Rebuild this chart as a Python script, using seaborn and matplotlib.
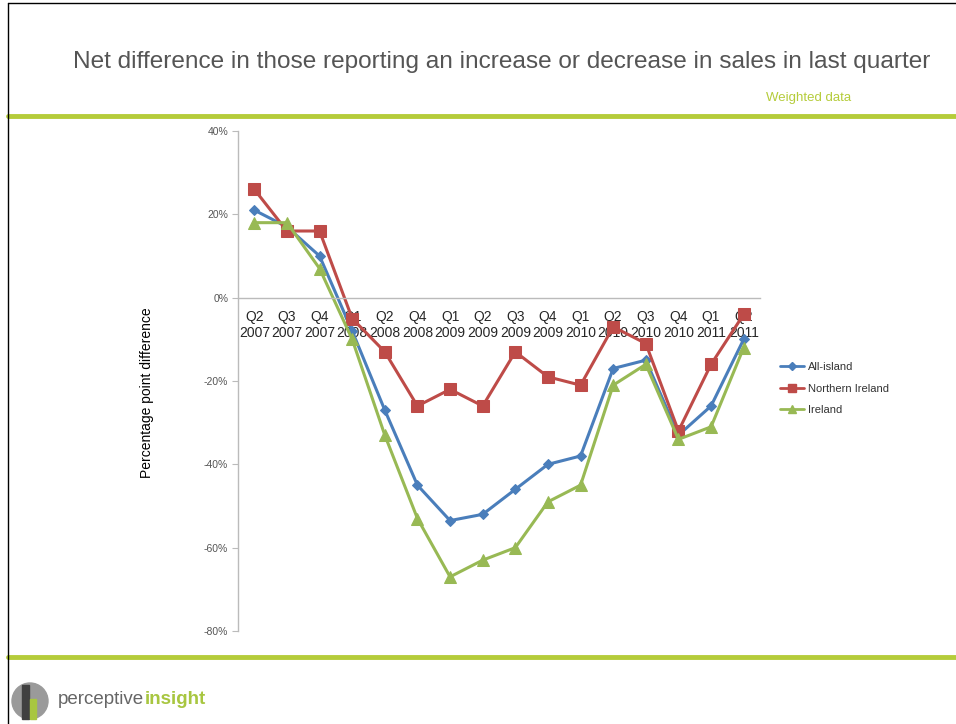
import matplotlib
matplotlib.use("Agg")
import pandas as pd
import seaborn as sns
import matplotlib.pyplot as plt
from matplotlib.patches import Circle, Rectangle
from matplotlib.lines import Line2D

quarters = ["Q2\n2007", "Q3\n2007", "Q4\n2007", "Q1\n2008", "Q2\n2008", "Q4\n2008",
            "Q1\n2009", "Q2\n2009", "Q3\n2009", "Q4\n2009", "Q1\n2010", "Q2\n2010",
            "Q3\n2010", "Q4\n2010", "Q1\n2011", "Q2\n2011"]
all_island = [21, 17, 10, -8, -27, -45, -53.5, -52, -46, -40, -38, -17, -15, -33, -26, -10]
northern_ireland = [26, 16, 16, -5, -13, -26, -22, -26, -13, -19, -21, -7, -11, -32, -16, -4]
ireland = [18, 18, 7, -10, -33, -53, -67, -63, -60, -49, -45, -21, -16, -34, -31, -12]

series_names = ["All-island", "Northern Ireland", "Ireland"]
colors = {"All-island": "#4a7ebb", "Northern Ireland": "#be4b48", "Ireland": "#98b954"}
markers = {"All-island": "D", "Northern Ireland": "s", "Ireland": "^"}
msizes = {"All-island": 5, "Northern Ireland": 8, "Ireland": 8}

rows = []
for name, vals in zip(series_names, [all_island, northern_ireland, ireland]):
    for i, v in enumerate(vals):
        rows.append({"pos": i, "Quarter": quarters[i], "Series": name, "Value": v})
df = pd.DataFrame(rows)

sns.set_style("white")
plt.rcParams["font.family"] = ["Liberation Sans", "DejaVu Sans"]

fig = plt.figure(figsize=(9.56, 7.24), dpi=100)
ax = fig.add_axes([238 / 956, 1 - 631 / 724, 522 / 956, 500 / 724])

for name in series_names:
    sub = df[df["Series"] == name]
    sns.lineplot(data=sub, x="pos", y="Value", color=colors[name], marker=markers[name],
                 markersize=msizes[name], markeredgecolor=colors[name], linewidth=2.2,
                 ax=ax, label=name, legend=False)

ax.set_xlim(-0.5, len(quarters) - 0.5)
ax.set_ylim(-80, 40)
ax.set_yticks(range(-80, 41, 20))
ax.set_yticklabels([f"{t}%" for t in range(-80, 41, 20)], fontsize=7.5, color="#555555")
ax.set_xticks(range(len(quarters)))
ax.set_xticklabels(quarters, fontsize=7, color="#555555", linespacing=1.75)
ax.set_xticks([i - 0.5 for i in range(len(quarters) + 1)], minor=True)
ax.tick_params(axis="x", which="major", length=0, pad=9)
ax.tick_params(axis="x", which="minor", length=4, direction="out", color="#bbbbbb")
ax.tick_params(axis="y", length=4, direction="out", color="#bbbbbb", pad=3, left=True)
ax.set_xlabel("")
ax.set_ylabel("")

ax.spines["top"].set_visible(False)
ax.spines["right"].set_visible(False)
ax.spines["bottom"].set_position(("data", 0))
for s in ["left", "bottom"]:
    ax.spines[s].set_color("#bbbbbb")
    ax.spines[s].set_linewidth(1)
ax.set_zorder(2)
ax.patch.set_alpha(0)

handles = [Line2D([0], [0], color=colors[n], marker=markers[n], markersize=msizes[n] * 0.75,
                  linewidth=2) for n in series_names]
fig.legend(handles, series_names, loc="upper left", bbox_to_anchor=(770 / 956, 1 - 352 / 724),
           frameon=False, fontsize=8, labelcolor="#333333", handlelength=2.2,
           handletextpad=0.3, labelspacing=1.05)

fig.text(147 / 956, 1 - 393 / 724, "Percentage point difference", rotation=90,
         ha="center", va="center", fontsize=10, color="black")

# page decorations
fig.text(502 / 956, 1 - 62 / 724,
         "Net difference in those reporting an increase or decrease in sales in last quarter",
         ha="center", va="center", fontsize=17.6, color="#555555")
fig.text(809 / 956, 1 - 98 / 724, "Weighted data", ha="center", va="center",
         fontsize=9.5, color="#b5cc3a")
for yy in [116, 657]:
    fig.add_artist(Line2D([8 / 956, 1], [1 - yy / 724] * 2, color="#b5cc3a", linewidth=3.5))
fig.add_artist(Line2D([8 / 956, 8 / 956], [0, 1 - 3 / 724], color="black", linewidth=1))
fig.add_artist(Line2D([8 / 956, 1], [1 - 3 / 724] * 2, color="black", linewidth=1))

# logo
fig.add_artist(Circle((0.30, 0.23), 0.18, transform=fig.dpi_scale_trans, color="#9a9a9a"))
fig.add_artist(Rectangle((0.22, 0.05), 0.07, 0.34, transform=fig.dpi_scale_trans,
                         color="#404040"))
fig.add_artist(Rectangle((0.30, 0.05), 0.06, 0.20, transform=fig.dpi_scale_trans,
                         color="#a8c640"))
fig.text(58 / 956, 1 - 700 / 724, "perceptive", ha="left", va="center", fontsize=13.5,
         color="#666666")
fig.text(145 / 956, 1 - 700 / 724, "insight", ha="left", va="center", fontsize=13.5,
         color="#a8c640", weight="semibold")

fig.savefig("out.png", dpi=100)
